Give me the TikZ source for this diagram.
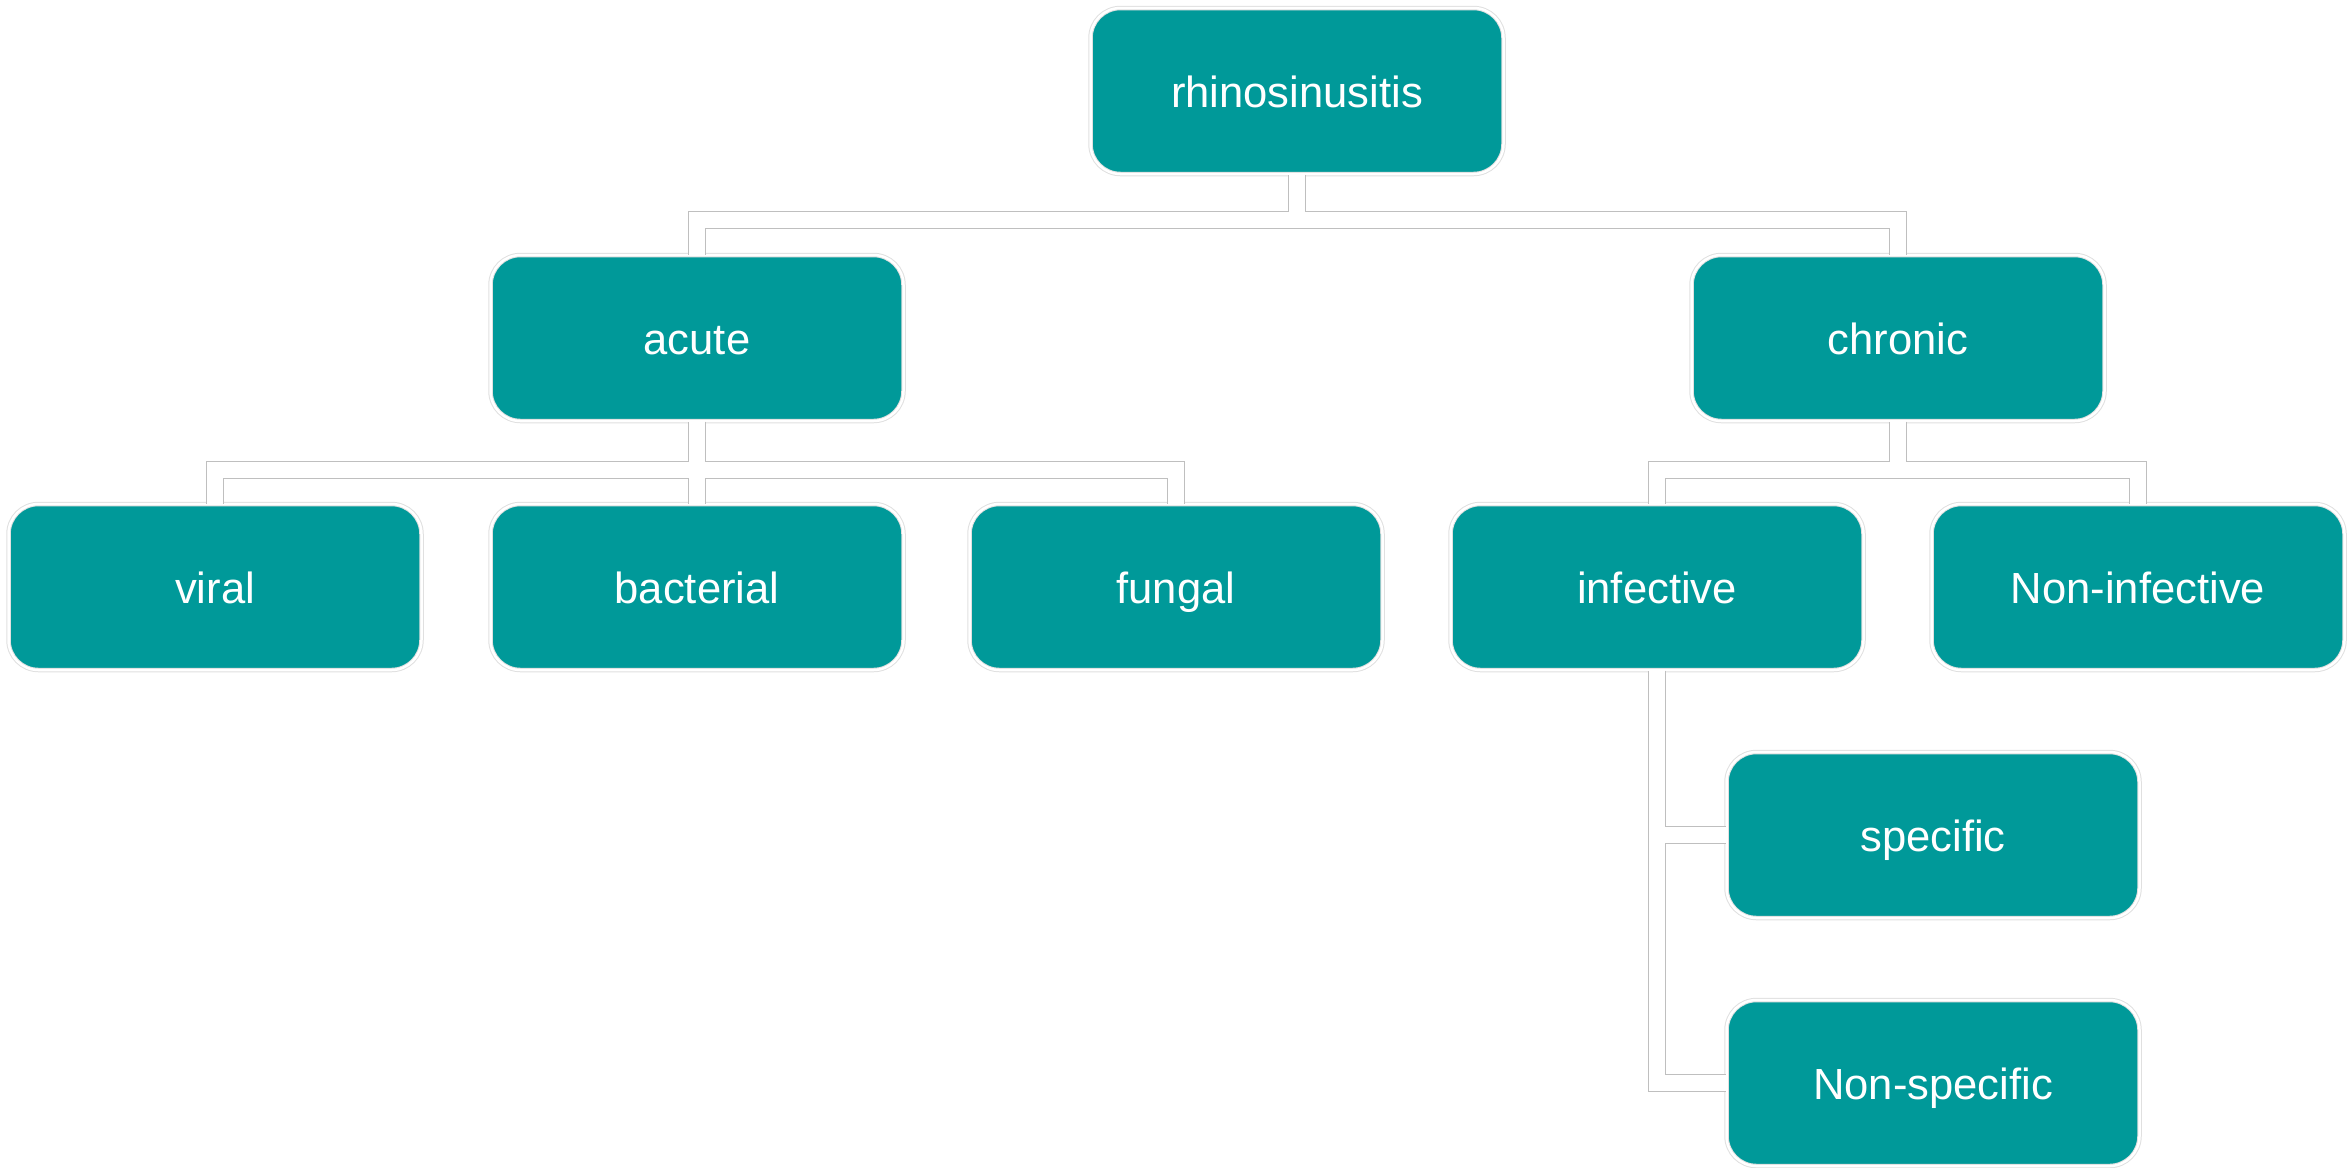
\documentclass[tikz,border=0pt]{standalone}
\usepackage{fontspec}
\setmainfont{Liberation Sans}
\usepackage{tikz}
\definecolor{teal}{RGB}{0,153,153}

\begin{document}
\begin{tikzpicture}[x=0.1mm,y=-0.1mm,
     box/.style={draw=black!12,double=white,double distance=0.25mm,
       line width=0.1mm,fill=teal,rounded corners=3mm,inner sep=0pt,
       minimum width=41.3mm,minimum height=16.6mm,text=white,
       text height=11pt,text depth=1.5pt,
       font=\fontsize{12.4}{15}\selectfont}]
    \useasboundingbox (0,0) rectangle (2351,1167);
    \node[box] (root) at (1297,91) {rhinosinusitis};
    \node[box] (acute) at (697,338) {acute};
    \node[box] (chronic) at (1898,338) {chronic};
    \node[box] (viral) at (215,587) {viral};
    \node[box] (bacterial) at (697,587) {bacterial};
    \node[box] (fungal) at (1176,587) {fungal};
    \node[box] (infective) at (1657,587) {infective};
    \node[box] (noninf) at (2138,587) {Non-infective};
    \node[box] (specific) at (1933,835) {specific};
    \node[box] (nonspec) at (1933,1083) {Non-specific};
    % connectors: grey outline first, white band on top
    \foreach \w/\c in {1.8mm/black!25,1.6mm/white}
      \draw[line width=\w,draw=\c]
        (root.south) -- ++(0,45) -| (acute.north)
        (root.south) -- ++(0,45) -| (chronic.north)
        (acute.south) -- ++(0,48) -| (viral.north)
        (acute.south) -- ++(0,48) -| (bacterial.north)
        (acute.south) -- ++(0,48) -| (fungal.north)
        (chronic.south) -- ++(0,48) -| (infective.north)
        (chronic.south) -- ++(0,48) -| (noninf.north)
        (infective.south) |- (specific.west)
        (infective.south) |- (nonspec.west);
  \end{tikzpicture}
\end{document}
